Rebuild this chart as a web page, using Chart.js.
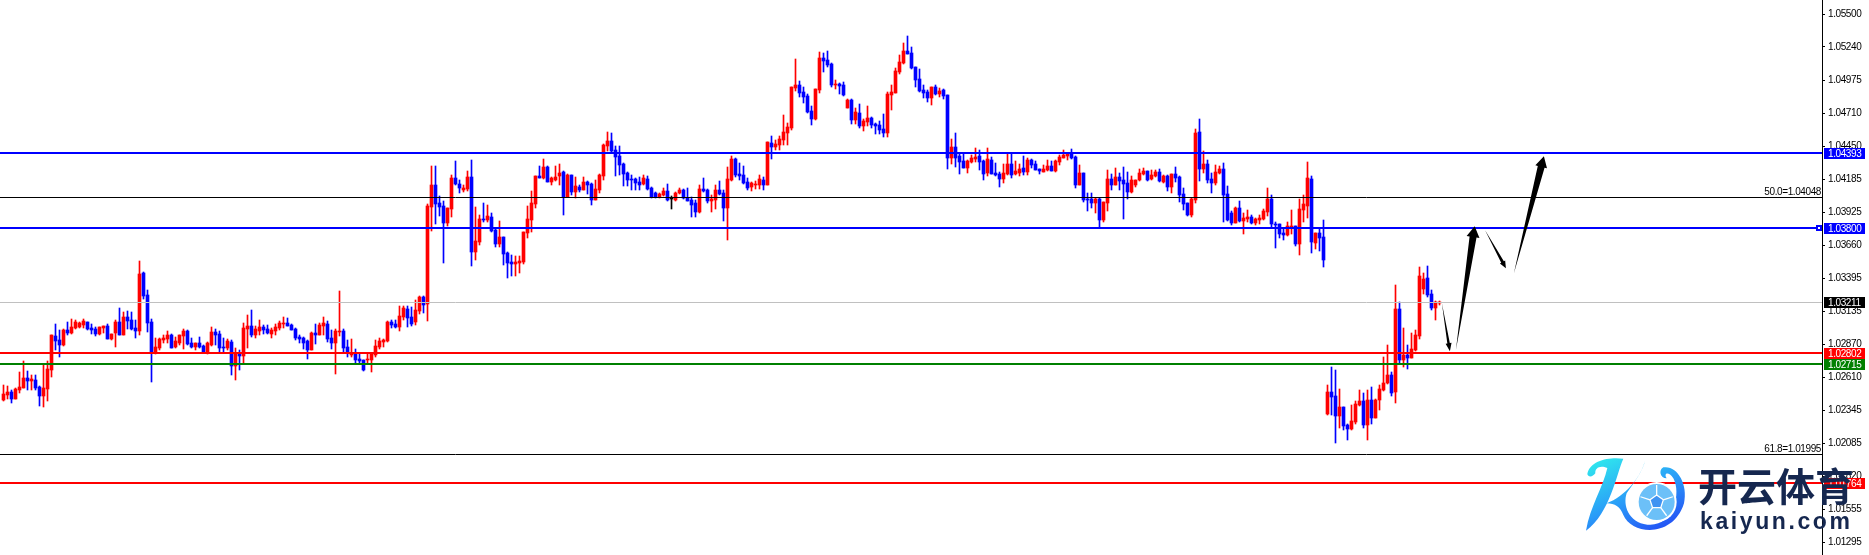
<!DOCTYPE html>
<html><head><meta charset="utf-8">
<style>html,body{margin:0;padding:0;background:#fff}canvas{display:block}</style>
<script src="https://cdn.jsdelivr.net/npm/chart.js@4/dist/chart.umd.min.js"></script>
</head><body>
<canvas id="c" width="1869" height="555"></canvas>
<script>
// All prices below are in points above 1.00000 (1 point = 0.00001).
const highs=[2546,2538,2506,2520,2650,2735,2658,2626,2626,2538,
2708,2735,2944,3032,2984,2992,3048,3072,3064,3051,
3072,3048,3037,3008,3011,3016,3037,2952,3064,3157,
3127,3138,3127,3064,3534,3446,3303,3072,2920,2920,
2944,2976,2952,2931,2944,2992,2984,2920,2881,2928,
2865,2889,3008,2992,2976,2920,2912,2905,2841,2825,
3040,3104,3143,3016,3064,3024,3024,3000,3032,3056,
3088,3080,3037,3000,2944,2928,2905,2968,3032,3045,
3088,3056,2984,2992,3295,2992,2905,2912,2833,2801,
2745,2801,2801,2905,2920,2912,3056,3064,3064,3175,
3175,3175,3165,3223,3255,3255,3988,4290,4290,4051,
4011,3956,4219,4330,4179,4139,4250,4338,3964,3900,
3996,3980,3916,3796,3852,3725,3605,3581,3573,3573,
3765,3972,4091,4211,4290,4346,4290,4203,4290,4306,
4250,4227,4219,4203,4139,4203,4171,4155,4179,4227,
4465,4561,4553,4450,4450,4314,4242,4219,4195,4203,
4219,4211,4123,4083,4073,4115,4147,4051,4083,4115,
4107,4115,4043,4019,4139,4195,4107,4059,4139,4171,
4099,4282,4370,4354,4314,4290,4195,4163,4171,4219,
4203,4481,4529,4497,4529,4696,4632,4919,5142,4967,
4919,4863,4768,4903,5198,5190,5206,5110,4975,4951,
4959,4823,4823,4752,4784,4664,4768,4680,4632,4648,
4704,4879,4935,5070,5174,5269,5325,5238,5078,5062,
4935,4895,4919,4935,4911,4903,4855,4505,4553,4393,
4385,4337,4377,4433,4417,4337,4433,4361,4314,4242,
4306,4393,4393,4330,4306,4369,4353,4346,4330,4266,
4298,4338,4330,4338,4377,4417,4393,4425,4369,4298,
4234,4075,4075,4035,4035,4003,4258,4226,4274,4234,
4282,4242,4210,4178,4266,4274,4250,4258,4258,4266,
4218,4218,4226,4282,4210,4115,3995,4035,4585,4664,
4409,4338,4234,4298,4290,4314,4131,3932,3963,4011,
3916,3940,3900,3876,3900,3947,4115,4059,3844,3828,
3796,3844,3940,3812,4027,4059,4322,4210,3756,3796,
3860,2546,2689,2665,2514,2370,2235,2386,2418,2506,
2482,2506,2530,2434,2546,2769,2864,2649,3342,3207,
3000,2864,2960,2984,3486,3438,3494,3302,3215,3215];
const lows=[2419,2432,2405,2435,2485,2520,2506,2506,2506,2379,
2374,2419,2612,2825,2769,2857,2944,2952,2992,3003,
3005,2984,2952,2936,2944,2960,2910,2905,2849,2944,
2944,2992,2984,2920,2944,3231,2968,2570,2798,2825,
2878,2878,2841,2841,2865,2833,2865,2841,2825,2841,
2809,2798,2857,2865,2809,2804,2825,2626,2586,2665,
2721,2841,2928,2920,2944,2952,2952,2920,2944,2984,
3000,3016,2984,2905,2878,2833,2753,2825,2873,2944,
2944,2889,2833,2634,2936,2809,2769,2769,2719,2719,
2658,2719,2650,2769,2833,2849,2891,3000,3003,2976,
3063,3010,3016,3029,3111,3117,3058,3773,3828,3892,
3518,3812,3884,4139,4075,4083,4091,3494,3542,3661,
3844,3844,3765,3645,3645,3502,3398,3414,3414,3438,
3510,3717,3765,3956,4195,4187,4163,4139,4171,4139,
3900,4043,4059,4035,4083,4099,4067,3980,4019,4075,
4179,4410,4402,4211,4219,4131,4131,4104,4099,4099,
4139,4099,4035,4035,4035,4051,4011,3948,4011,4067,
4027,4011,3884,3884,3916,4083,3996,3924,3948,4059,
3852,3701,4171,4203,4179,4147,4099,4091,4107,4107,
4099,4138,4346,4417,4417,4457,4457,4576,4887,4839,
4792,4712,4616,4656,4871,5038,5078,4919,4903,4863,
4847,4752,4624,4624,4592,4569,4608,4592,4545,4545,
4521,4521,4736,4871,5028,5102,5182,5062,4919,4879,
4831,4800,4776,4855,4839,4823,4266,4306,4282,4226,
4274,4234,4314,4322,4258,4178,4210,4226,4210,4122,
4154,4218,4194,4218,4210,4218,4218,4274,4258,4226,
4242,4250,4250,4242,4298,4353,4338,4346,4115,4138,
4003,3931,3955,3916,3801,3844,3931,4099,4139,4099,
3868,4027,4075,4123,4170,4218,4170,4178,4202,4163,
4155,4091,4075,4163,4003,3940,3892,3884,3995,4170,
4234,4155,4075,4139,4226,3844,3852,3820,3836,3844,
3748,3844,3828,3820,3828,3860,3892,3804,3637,3716,
3700,3732,3748,3653,3581,3844,3876,3597,3629,3613,
3486,2307,2307,2084,2203,2187,2108,2187,2235,2378,
2203,2108,2235,2283,2347,2498,2554,2458,2402,2721,
2689,2673,2761,2817,2912,3271,3247,3143,3063,3183];
const opens=[2427,2466,2490,2437,2506,2522,2602,2578,2586,2530,
2458,2514,2665,2936,2905,2865,2984,2960,3000,3008,
3024,3048,3000,2992,2952,3000,3016,2912,2960,3048,
2944,3088,3064,3000,2976,3438,3263,3048,2804,2841,
2905,2912,2944,2849,2881,2936,2976,2881,2849,2881,
2857,2804,2865,2968,2952,2849,2841,2889,2697,2793,
2777,2992,3016,2944,2976,3008,2992,2952,2976,3000,
3032,3040,3024,2992,2928,2920,2897,2825,2960,2944,
3016,3032,2920,2881,2968,2976,2849,2785,2801,2753,
2745,2745,2745,2785,2849,2889,2897,3048,3032,3008,
3087,3151,3085,3050,3138,3247,3189,3964,4139,3996,
3972,3836,3948,4195,4147,4099,4107,4203,3605,3685,
3868,3860,3884,3780,3669,3725,3597,3526,3510,3518,
3526,3757,3860,3988,4211,4195,4282,4163,4179,4211,
4242,4043,4219,4083,4123,4099,4163,4147,4019,4099,
4211,4450,4489,4418,4370,4306,4235,4187,4187,4163,
4147,4187,4115,4075,4043,4059,4091,4027,4019,4075,
4099,4035,4019,3996,3924,4107,4099,4011,4019,4099,
4075,3956,4179,4346,4227,4219,4163,4123,4139,4139,
4179,4138,4473,4441,4457,4497,4553,4592,4911,4935,
4879,4847,4728,4664,4895,5150,5134,5102,4935,4943,
4935,4752,4815,4656,4712,4608,4640,4672,4624,4616,
4584,4553,4855,4871,5038,5110,5206,5190,5078,4983,
4895,4879,4831,4919,4863,4895,4855,4353,4441,4369,
4330,4274,4322,4345,4369,4330,4234,4338,4234,4226,
4186,4226,4306,4226,4234,4274,4242,4338,4306,4266,
4242,4258,4290,4250,4322,4353,4369,4385,4361,4138,
4234,4027,4027,3995,4027,3860,3995,4186,4139,4202,
4178,4155,4083,4139,4178,4226,4250,4186,4210,4242,
4163,4210,4123,4226,4202,4067,3995,3900,4019,4561,
4266,4306,4186,4155,4234,4266,4067,3916,3836,3955,
3852,3868,3884,3836,3860,3868,3924,4027,3828,3828,
3756,3740,3804,3812,3669,3940,3971,4186,3677,3756,
3724,2315,2490,2458,2299,2370,2227,2195,2251,2386,
2418,2227,2426,2283,2426,2506,2562,2625,2490,3151,
2745,2785,2761,2825,2936,3310,3398,3271,3159,3201];
const closes=[2474,2490,2437,2514,2530,2602,2581,2594,2522,2458,
2522,2674,2944,2897,2865,2984,2960,3008,3048,3040,
3056,2992,2984,2952,3008,3016,2912,2952,3048,2944,
3088,3056,2992,2976,3430,3255,3040,2809,2849,2912,
2920,2944,2841,2897,2944,2976,2873,2849,2881,2849,
2809,2881,2968,2944,2841,2841,2897,2697,2801,2777,
3000,3016,2944,2992,3008,2984,2960,2984,3008,3040,
3040,3016,2984,2920,2912,2881,2825,2960,2944,3024,
3040,2912,2881,2976,2976,2841,2804,2793,2745,2737,
2665,2753,2793,2857,2897,2905,3048,3024,3008,3096,
3161,3077,3037,3143,3247,3183,3972,4139,3988,3964,
3836,3956,4195,4147,4115,4115,4203,3605,3693,3868,
3860,3892,3773,3669,3725,3589,3518,3510,3526,3534,
3765,3868,3996,4211,4195,4282,4163,4195,4203,4235,
4043,4219,4083,4131,4099,4163,4139,4019,4107,4219,
4458,4489,4410,4362,4298,4227,4179,4179,4155,4139,
4195,4107,4043,4043,4067,4091,4019,4027,4075,4099,
4035,4011,3980,3924,4107,4091,4011,4027,4099,4067,
3956,4187,4346,4219,4211,4155,4115,4155,4147,4187,
4139,4481,4441,4465,4505,4561,4600,4919,4935,4871,
4839,4720,4664,4903,5150,5126,5094,4935,4943,4927,
4855,4815,4656,4720,4608,4648,4672,4616,4608,4576,
4553,4863,4879,5046,5118,5206,5182,5070,4975,4887,
4871,4831,4919,4863,4887,4847,4353,4441,4353,4322,
4274,4330,4353,4361,4322,4226,4346,4226,4218,4186,
4234,4306,4218,4250,4266,4242,4338,4298,4258,4250,
4266,4290,4250,4330,4361,4377,4385,4353,4138,4234,
4019,4019,3995,4027,3860,4003,4186,4139,4202,4170,
4147,4083,4178,4178,4234,4250,4178,4218,4242,4170,
4210,4123,4226,4194,4059,3987,3900,4027,4553,4266,
4306,4178,4155,4242,4266,4059,3860,3836,3955,3852,
3876,3884,3836,3868,3876,3932,4027,3828,3820,3748,
3740,3812,3812,3669,3947,3987,4194,3685,3756,3716,
3541,2490,2450,2299,2370,2219,2195,2259,2394,2418,
2227,2426,2283,2426,2514,2562,2625,2482,3151,2745,
2785,2761,2832,2944,3414,3390,3263,3159,3207,3211];

const tickLabels=["1.05500","1.05240","1.04975","1.04710","1.04450","1.04185","1.03925","1.03660","1.03395","1.03135","1.02870","1.02610","1.02345","1.02085","1.01820","1.01555","1.01295"];

const levelPrices=[1.04393,1.03800,1.03211,1.02802,1.02715,1.01764];
const levelColors=["#0000ff","#0000ff","#c0c0c0","#ff0000","#008000","#ff0000"];
const levelWidths=[2,2,1,2,2,2];
const tagColors=["#0000ff","#0000ff","#000000","#ff0000","#008000","#ff0000"];

const fiboLabels=["50.0=1.04048","61.8=1.01995"];
const fiboPrices=[1.04048,1.01995];

// Hand-drawn forecast arrows, in bar number and points
const arrowTailBar=[359.6,363.1,370.4,377.6];
const arrowTailPts=[3199,2825,3780,3438];
const arrowTipBar=[361.6,367.8,375.6,385.1];
const arrowTipPts=[2817,3812,3478,4370];
const arrowNeck=[2.5,7,3,7];
const arrowHeadW=[6,13,6,12];
const arrowHeadL=[8,11,7,11];

const price=p=>1+p/100000;
const yMin=1.01193,yMax=1.05614,xMin=-0.875,xMax=454.625;

const candleColor=highs.map((_,i)=>closes[i]>opens[i]?"#ff0000":closes[i]<opens[i]?"#0000ff":"#000000");
const wickData=highs.map((h,i)=>({x:i,y:[price(lows[i]),price(h)]}));
const bodyData=highs.map((_,i)=>({x:i,y:[price(Math.min(opens[i],closes[i])),price(Math.max(opens[i],closes[i]))]}));

const TEXT_FONT='10px "Liberation Sans"';
const overlay={id:'overlay',
 beforeDraw(chart){
  const ctx=chart.ctx;
  if('letterSpacing' in ctx)ctx.letterSpacing='-0.4px';
 },
 beforeDatasetsDraw(chart){
  // pixel-snap candles and level lines so they stay crisp
  chart.data.datasets.forEach((ds,i)=>{
    const m=chart.getDatasetMeta(i);
    if(m.type==='bar'){m.data.forEach(el=>{
      let top=Math.round(el.y),bot=Math.round(el.base);
      if(bot<=top)bot=top+1;
      el.y=top;el.base=bot;el.height=bot-top;
    });}
    else{const w=ds.borderWidth;m.data.forEach(pt=>{pt.y=Math.round(pt.y)+(w%2?0.5:0);});}
  });
 },
 afterDraw(chart){
  const ctx=chart.ctx,xs=chart.scales.x,ys=chart.scales.y,a=chart.chartArea;
  ctx.save();
  // fibo captions
  ctx.font=TEXT_FONT;ctx.fillStyle='#000';ctx.textAlign='right';ctx.textBaseline='alphabetic';
  fiboLabels.forEach((t,i)=>ctx.fillText(t,a.right-1,Math.round(ys.getPixelForValue(fiboPrices[i]))-2));
  // handle on the 1.03800 line
  const hy=Math.round(ys.getPixelForValue(levelPrices[1]));
  ctx.fillStyle='#0000ff';ctx.fillRect(a.right-6,hy-3,6,6);ctx.fillStyle='#fff';ctx.fillRect(a.right-4,hy-1,2,2);
  // price tags
  ctx.textAlign='left';ctx.textBaseline='middle';
  levelPrices.forEach((p,i)=>{
    const y=Math.round(ys.getPixelForValue(p));
    ctx.fillStyle=tagColors[i];ctx.fillRect(a.right+2,y-5,41,11);
    ctx.fillStyle='#fff';ctx.fillText(p.toFixed(5),a.right+6,y+1);
  });
  if('letterSpacing' in ctx)ctx.letterSpacing='0px';
  // arrows
  ctx.fillStyle='#000';
  arrowTailBar.forEach((_,i)=>{
    const x0=xs.getPixelForValue(arrowTailBar[i]),y0=ys.getPixelForValue(price(arrowTailPts[i]));
    const x1=xs.getPixelForValue(arrowTipBar[i]),y1=ys.getPixelForValue(price(arrowTipPts[i]));
    const dx=x1-x0,dy=y1-y0,l=Math.hypot(dx,dy),ux=dx/l,uy=dy/l,nx=-uy,ny=ux;
    const nkx=x1-ux*arrowHeadL[i],nky=y1-uy*arrowHeadL[i],n=arrowNeck[i]/2,h=arrowHeadW[i]/2;
    ctx.beginPath();ctx.moveTo(x0,y0);
    ctx.lineTo(nkx+nx*n,nky+ny*n);ctx.lineTo(nkx+nx*h,nky+ny*h);ctx.lineTo(x1,y1);
    ctx.lineTo(nkx-nx*h,nky-ny*h);ctx.lineTo(nkx-nx*n,nky-ny*n);ctx.closePath();ctx.fill();
  });
  // watermark logo
  const X=v=>1560+v/3,Y=v=>440+v/3;
  const g=ctx.createLinearGradient(X(150),Y(50),X(260),Y(280));
  g.addColorStop(0,'#2fe3ee');g.addColorStop(.55,'#2a9cf8');g.addColorStop(1,'#2458f5');
  ctx.fillStyle=g;
  ctx.beginPath();ctx.moveTo(X(82),Y(102));
  ctx.bezierCurveTo(X(90),Y(60),X(150),Y(50),X(190),Y(56));
  ctx.bezierCurveTo(X(170),Y(100),X(150),Y(220),X(78),Y(272));
  ctx.bezierCurveTo(X(90),Y(200),X(130),Y(140),X(142),Y(84));
  ctx.bezierCurveTo(X(120),Y(74),X(104),Y(84),X(106),Y(100));
  ctx.bezierCurveTo(X(98),Y(112),X(84),Y(112),X(82),Y(102));ctx.fill();
  ctx.beginPath();ctx.moveTo(X(256),Y(58));
  ctx.bezierCurveTo(X(245),Y(110),X(195),Y(170),X(140),Y(190));
  ctx.bezierCurveTo(X(165),Y(190),X(180),Y(200),X(190),Y(225));
  ctx.bezierCurveTo(X(215),Y(285),X(340),Y(295),X(372),Y(190));
  ctx.bezierCurveTo(X(385),Y(130),X(350),Y(75),X(310),Y(82));
  ctx.bezierCurveTo(X(295),Y(90),X(300),Y(115),X(320),Y(115));
  ctx.bezierCurveTo(X(310),Y(100),X(325),Y(92),X(340),Y(115));
  ctx.bezierCurveTo(X(365),Y(160),X(340),Y(262),X(262),Y(254));
  ctx.bezierCurveTo(X(205),Y(248),X(188),Y(195),X(200),Y(160));
  ctx.bezierCurveTo(X(220),Y(130),X(250),Y(95),X(256),Y(58));ctx.fill();
  // ball
  const bx=X(290),by=Y(186),br=19;
  ctx.beginPath();ctx.arc(bx,by,br+1,0,Math.PI*2);ctx.fillStyle='#fff';ctx.fill();
  ctx.beginPath();ctx.arc(bx,by,br-1,0,Math.PI*2);ctx.fillStyle='#6cc0f8';ctx.fill();
  ctx.strokeStyle='#fff';ctx.lineWidth=1.3;
  const pent=[];for(let k=0;k<5;k++){const t=-Math.PI/2+k*2*Math.PI/5;pent.push([bx+7*Math.cos(t),by+7*Math.sin(t),t]);}
  ctx.beginPath();pent.forEach((p,k)=>ctx[k?'lineTo':'moveTo'](p[0],p[1]));ctx.closePath();ctx.fillStyle='#3f93f2';ctx.fill();ctx.stroke();
  pent.forEach(p=>{ctx.beginPath();ctx.moveTo(p[0],p[1]);ctx.lineTo(bx+(br-2)*Math.cos(p[2]),by+(br-2)*Math.sin(p[2]));ctx.stroke();});
  // watermark text
  ctx.fillStyle='#15274f';ctx.textAlign='left';ctx.textBaseline='alphabetic';
  ctx.font='bold 39px "Noto Sans CJK SC"';ctx.fillText('开云体育',1698,501);
  ctx.font='bold 23px "Liberation Sans"';
  if('letterSpacing' in ctx)ctx.letterSpacing='2.6px';
  ctx.fillText('kaiyun.com',1700,529);
  ctx.restore();
}};

const lineDatasets=levelPrices.map((p,i)=>({type:'line',data:[{x:xMin,y:p},{x:xMax,y:p}],borderColor:levelColors[i],borderWidth:levelWidths[i],pointRadius:0,order:1}));
const fiboDatasets=fiboPrices.map(p=>({type:'line',data:[{x:xMin,y:p},{x:xMax,y:p}],borderColor:'#000',borderWidth:1,pointRadius:0,order:1}));

new Chart(document.getElementById('c'),{
  type:'bar',
  plugins:[overlay],
  data:{datasets:[
    {label:'wick',data:wickData,backgroundColor:candleColor,barThickness:1,grouped:false,order:3,borderWidth:0,borderSkipped:false},
    {label:'body',data:bodyData,backgroundColor:candleColor,barThickness:3,grouped:false,order:2,borderWidth:0,borderSkipped:false,minBarLength:1},
    ...fiboDatasets,...lineDatasets]},
  options:{
    responsive:false,animation:false,
    layout:{padding:0},
    plugins:{legend:{display:false},tooltip:{enabled:false},title:{display:false}},
    scales:{
      x:{type:'linear',display:false,min:xMin,max:xMax,offset:false,grid:{display:false}},
      y:{position:'right',min:yMin,max:yMax,
        afterFit(s){s.width=47;s.paddingTop=0;s.paddingBottom=0;},
        afterBuildTicks(s){s.ticks=tickLabels.map(t=>({value:parseFloat(t)}));},
        border:{color:'#000',width:1},
        grid:{drawOnChartArea:false,drawTicks:true,tickLength:3,color:'#000'},
        ticks:{autoSkip:false,maxRotation:0,padding:3,color:'#000',font:{family:'"Liberation Sans"',size:10},callback:v=>v.toFixed(5)}}
    }
  }
});
</script>
</body></html>
